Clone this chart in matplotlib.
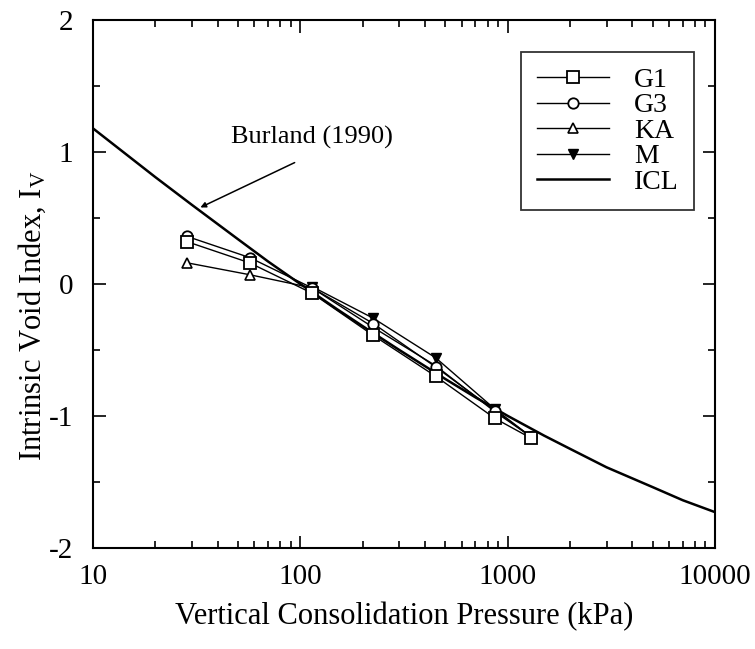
import matplotlib
matplotlib.use("Agg")
import matplotlib.pyplot as plt
from matplotlib.ticker import LogLocator, MultipleLocator, FixedLocator, NullFormatter

plt.rcParams['font.family'] = ['Liberation Serif', 'DejaVu Serif']
plt.rcParams['mathtext.fontset'] = 'custom'
plt.rcParams['mathtext.rm'] = 'Liberation Serif'
plt.rcParams['mathtext.it'] = 'Liberation Serif'
plt.rcParams['axes.unicode_minus'] = False

# ICL (Burland 1990)
icl_p = [10, 20, 30, 50, 70, 100, 150, 200, 300, 500, 700, 1000, 1500, 2000, 3000, 5000, 7000, 10000]
icl_iv = [1.18, 0.81, 0.60, 0.34, 0.17, 0.0, -0.19, -0.32, -0.50, -0.72, -0.86, -1.00, -1.15, -1.25, -1.39, -1.54, -1.64, -1.73]

g1_p = [28.5, 57, 114, 225, 450, 870, 1300]
g1_iv = [0.32, 0.16, -0.07, -0.39, -0.70, -1.02, -1.17]
g3_p = [28.5, 57, 114, 225, 450, 870, 1300]
g3_iv = [0.36, 0.20, -0.03, -0.30, -0.63, -0.96, -1.16]
ka_p = [28.5, 57, 114, 225, 450, 870, 1300]
ka_iv = [0.16, 0.07, -0.03, -0.33, -0.62, -0.97, -1.16]
m_p = [114, 225, 450, 870, 1300]
m_iv = [-0.02, -0.26, -0.56, -0.95, -1.16]

fig = plt.figure(figsize=(7.55, 6.49), dpi=100)
ax = fig.add_axes([0.123, 0.156, 0.824, 0.813])

ax.plot(icl_p, icl_iv, color='black', lw=1.8, label='ICL', zorder=2)
ax.plot(m_p, m_iv, color='black', lw=1.0, marker='v', ms=6.5, mfc='black', mec='black', label='M', zorder=3)
ax.plot(ka_p, ka_iv, color='black', lw=1.0, marker='^', ms=6.5, mfc='white', mec='black', mew=1.2, label='KA', zorder=3)
ax.plot(g3_p, g3_iv, color='black', lw=1.0, marker='o', ms=7.5, mfc='white', mec='black', mew=1.3, label='G3', zorder=3)
ax.plot(g1_p, g1_iv, color='black', lw=1.0, marker='s', ms=8, mfc='white', mec='black', mew=1.3, label='G1', zorder=4)

ax.set_xscale('log')
ax.set_xlim(10, 10000)
ax.set_ylim(-2, 2)
ax.xaxis.set_major_locator(FixedLocator([10, 100, 1000, 10000]))
ax.set_xticklabels(['10', '100', '1000', '10000'])
ax.xaxis.set_minor_locator(LogLocator(base=10, subs=range(2, 10)))
ax.xaxis.set_minor_formatter(NullFormatter())
ax.yaxis.set_major_locator(MultipleLocator(1))
ax.yaxis.set_minor_locator(MultipleLocator(0.5))

ax.tick_params(which='both', direction='in', top=True, right=True, labelsize=21, width=1.2)
ax.tick_params(which='major', length=9)
ax.tick_params(axis='x', which='major', pad=12)
ax.tick_params(axis='y', which='major', pad=14)
ax.tick_params(which='minor', length=5)
for s in ax.spines.values():
    s.set_linewidth(1.5)

ax.set_xlabel('Vertical Consolidation Pressure (kPa)', fontsize=22, labelpad=8)
ax.set_ylabel('Intrinsic Void Index, I$_\\mathrm{V}$', fontsize=22)
ax.yaxis.set_label_coords(-0.072, 0.44)

ax.text(46.5, 1.11, 'Burland (1990)', fontsize=19, ha='left', va='center')
ax.annotate('', xy=(33, 0.58), xytext=(94, 0.92),
            arrowprops=dict(arrowstyle='-|>', color='black', lw=1.1, mutation_scale=8,
                            shrinkA=0, shrinkB=0))

handles, labels = ax.get_legend_handles_labels()
order = ['G1', 'G3', 'KA', 'M', 'ICL']
hmap = dict(zip(labels, handles))
leg = ax.legend([hmap[k] for k in order], order, loc='upper right',
                bbox_to_anchor=(0.966, 0.939), fontsize=20, frameon=True, fancybox=False,
                edgecolor='black', handlelength=2.6, handletextpad=0.9, labelspacing=0.0,
                borderpad=0.55, borderaxespad=0)
leg.get_frame().set_linewidth(1.3)

fig.savefig('out.png', dpi=100, facecolor='white')
